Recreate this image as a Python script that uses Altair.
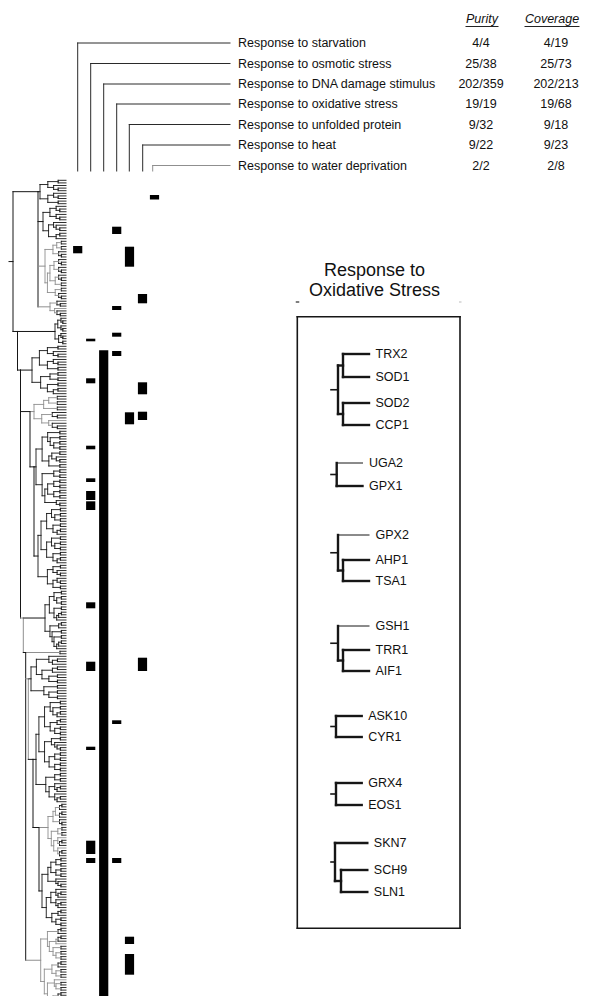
import math
import altair as alt
import pandas as pd

# ------------------------------------------------------------------ data
categories = ["Response to starvation", "Response to osmotic stress",
              "Response to DNA damage stimulus", "Response to oxidative stress",
              "Response to unfolded protein", "Response to heat",
              "Response to water deprivation"]
purity = ["4/4", "25/38", "202/359", "19/19", "9/32", "9/22", "2/2"]
coverage = ["4/19", "25/73", "202/213", "19/68", "9/18", "9/23", "2/8"]

# presence bars: category column, start / end along the ordered gene axis
bar_col = [6, 3, 0, 4, 5, 3, 3, 1, 3, 2, 1, 5, 4, 5, 1, 1, 1, 1, 1, 1, 5, 3, 1, 1, 1, 3, 4, 4]
bar_start = [195, 226.7, 246, 246.7, 294, 306, 332.7, 338.7, 351, 350.3, 378.3, 382.3, 412.3,
             411.7, 445.7, 478.3, 491, 501.3, 602.3, 661.7, 657.7, 720.3, 746.7, 840.7, 858,
             858, 936.7, 954]
bar_end = [199.5, 234, 253.3, 266.7, 303.3, 310, 336.7, 341.3, 356, 1010, 383.3, 394.3, 424.3,
           420, 449.3, 482, 500, 510, 608.3, 671, 671, 724, 750, 854, 863, 863, 944, 974.7]

# inset: response to oxidative stress clusters
inset_genes = [["TRX2", "SOD1", "SOD2", "CCP1"], ["UGA2", "GPX1"], ["GPX2", "AHP1", "TSA1"],
               ["GSH1", "TRR1", "AIF1"], ["ASK10", "CYR1"], ["GRX4", "EOS1"],
               ["SKN7", "SCH9", "SLN1"]]
inset_gene_pos = [[354, 377, 403, 425], [463, 486], [535, 560, 581], [626, 650, 671],
                  [716, 737], [783, 805], [843, 870, 892]]
inset_topology = [((0, 1), (2, 3)), (0, 1), (0, (1, 2)), (0, (1, 2)), (0, 1), (0, 1), (0, (1, 2))]
inset_root_h = [338, 336.7, 338, 338, 336, 336, 335]
inset_inner_h = [343, 0, 343, 343, 0, 0, 341]
inset_leaf_h = [369, 362.5, 369, 369, 361.7, 361.7, 367.3]
thin_leaves = ["UGA2", "GPX2", "GSH1"]

# main dendrogram: sub-clusters (span on gene axis, merge height, parent, tone)
block_start = [179, 205, 240, 300, 317, 345, 395, 430, 507, 590, 650, 655, 700, 803, 857, 927]
block_end = [205, 240, 300, 317, 345, 395, 430, 507, 590, 650, 655, 700, 803, 857, 927, 1012]
block_h = [40, 43, 45, 50, 55, 32, 34, 36, 38, 45, 60, 31, 36, 48, 42, 40.7]
block_parent = ["S1", "S1", "S1", "S1", "S2", "S3", "S3a", "S3b", "S3b", "S4", "S5", "S6",
                "S7", "S8", "S8", "S5"]
block_tone = ["k", "k", "g", "g", "k", "k", "g", "k", "k", "k", "g", "k", "k", "g", "k", "g"]
spine_name = ["S0", "S1", "S2", "S3", "S3a", "S3b", "S4", "S5", "S6", "S7", "S8"]
spine_h = [13, 38, 17.5, 20.5, 30, 34, 23.3, 25.7, 28.3, 33, 39]
spine_parent = ["", "S0", "S0", "S2", "S3", "S3a", "S3", "S4", "S5", "S6", "S7"]
spine_tone = ["k", "k", "k", "k", "k", "k", "g", "k", "g", "k", "k"]

# ------------------------------------------------------------------ layout
BLACK, GRAY = "#161616", "#8f8f8f"
TONE = {"k": BLACK, "g": GRAY}
LEAF_X = 66
COL_X = [77.7, 90.7, 103.7, 116.7, 129.5, 142.5, 154.5]
BRACKET_X = [77.7, 90.7, 103.7, 116.7, 129.3, 142.7, 152.7]
ROW_Y = [43, 63.5, 84, 104, 124.5, 145, 165.5]
PUR_X, COV_X, COV_HEAD_X = 481, 556, 552

segs = []


def seg(x1, y1, x2, y2, color=BLACK, w=1.0):
    segs.append(dict(x=x1, y=y1, x2=x2, y2=y2, color=color, sw=w))


# header brackets
for i in range(7):
    c = GRAY if i == 6 else "#2a2a2a"
    seg(BRACKET_X[i], ROW_Y[i], BRACKET_X[i], 171, c, 1)
    seg(BRACKET_X[i], ROW_Y[i], 230, ROW_Y[i], c, 1)

# dendrogram blocks
SPLITS = [0.5, 0.3, 0.62, 0.4, 0.25, 0.55, 0.35, 0.45, 0.7, 0.5]
counter = [0]


def build_block(y0, y1, root_x, tone):
    n = max(2, int(round((y1 - y0) / 2.6)))
    step = (y1 - y0) / n
    leaves = [y0 + (i + 0.5) * step for i in range(n)]

    def rec(lo, hi):
        size = hi - lo
        if size == 1:
            return LEAF_X, leaves[lo]
        f = SPLITS[counter[0] % len(SPLITS)]
        counter[0] += 1
        k = lo + min(size - 1, max(1, int(round(size * f))))
        c1 = rec(lo, k)
        c2 = rec(k, hi)
        x = LEAF_X - (LEAF_X - root_x) * (math.log(size) / math.log(n))
        col = TONE[tone] if size > 3 else BLACK
        seg(x, c1[1], x, c2[1], col, 0.9)
        seg(x, c1[1], c1[0], c1[1], col, 0.9)
        seg(x, c2[1], c2[0], c2[1], col, 0.9)
        return x, (c1[1] + c2[1]) / 2

    return rec(0, n)


children = {s: [] for s in spine_name}
for i in range(len(block_start)):
    bx, by = build_block(block_start[i], block_end[i], block_h[i], block_tone[i])
    children[block_parent[i]].append((bx, by, block_tone[i]))

spine_top = {}
for j in reversed(range(len(spine_name))):
    name = spine_name[j]
    ys = [c[1] for c in children[name]]
    x = spine_h[j]
    col = TONE[spine_tone[j]]
    seg(x, min(ys), x, max(ys), col, 1)
    for cx, cy, ct in children[name]:
        seg(x, cy, cx, cy, TONE[ct], 1)
    top = min(ys)
    spine_top[name] = (top, (min(ys) + max(ys)) / 2)
    if spine_parent[j]:
        children[spine_parent[j]].append((x, top, spine_tone[j]))
seg(9, spine_top["S0"][1], 13, spine_top["S0"][1], BLACK, 1)

# inset box
seg(297.3, 316.7, 460, 316.7, BLACK, 1.6)
seg(297.3, 928.3, 460, 928.3, BLACK, 1.6)
seg(297.3, 316.7, 297.3, 928.3, BLACK, 1.6)
seg(460, 316.7, 460, 928.3, BLACK, 1.6)
seg(296.5, 302, 298.5, 302, "#555555", 1.5)
seg(459.5, 302, 461, 302, "#bbbbbb", 1)

# inset dendrograms
text_rows_inset = []
for g in range(7):
    genes = inset_genes[g]
    pos = inset_gene_pos[g]
    lend = inset_leaf_h[g]

    def draw(t, x):
        if isinstance(t, int):
            w = 1.0 if genes[t] in thin_leaves else 2.4
            seg(x, pos[t], lend, pos[t], BLACK, w)
            return pos[t]
        a, b = t
        inner = inset_inner_h[g]
        ya = draw(a, inner)
        yb = draw(b, inner)
        seg(inner, ya, inner, yb, BLACK, 2.4)
        ym = (ya + yb) / 2
        seg(x, ym, inner, ym, BLACK, 2.4)
        return ym

    a, b = inset_topology[g]
    rx = inset_root_h[g]
    ya = draw(a, rx)
    yb = draw(b, rx)
    seg(rx, ya, rx, yb, BLACK, 2.4)
    seg(331, (ya + yb) / 2, rx, (ya + yb) / 2, BLACK, 1.6)
    for t, yy in zip(genes, pos):
        text_rows_inset.append(dict(x=lend + 6.5, y=yy, text=t))

# underline for column headers
seg(466, 26.5, 498, 26.5, "#222222", 1)
seg(COV_HEAD_X - 27, 26.5, COV_HEAD_X + 27, 26.5, "#222222", 1)

seg_df = pd.DataFrame(segs)

bars_df = pd.DataFrame(dict(
    x=[COL_X[c] - 4.6 for c in bar_col], x2=[COL_X[c] + 4.6 for c in bar_col],
    y=bar_start, y2=bar_end))

label_df = pd.DataFrame(dict(x=[238] * 7, y=ROW_Y, text=categories))
val_df = pd.DataFrame(dict(x=[PUR_X] * 7 + [COV_X] * 7, y=ROW_Y * 2, text=purity + coverage))
head_df = pd.DataFrame(dict(x=[482, COV_HEAD_X], y=[19, 19], text=["Purity", "Coverage"]))
title_df = pd.DataFrame(dict(x=[374.5, 374.5], y=[270.5, 291], text=["Response to", "Oxidative Stress"]))
gene_df = pd.DataFrame(text_rows_inset)

xs = alt.Scale(domain=[8, 581], nice=False, zero=False)
ys = alt.Scale(domain=[8, 996], nice=False, zero=False, reverse=True)
X = alt.X("x:Q", scale=xs, axis=None)
Y = alt.Y("y:Q", scale=ys, axis=None)
FONT = "Liberation Sans"

rules = alt.Chart(seg_df).mark_rule(strokeCap="square").encode(
    x=X, y=Y, x2="x2:Q", y2="y2:Q",
    color=alt.Color("color:N", scale=None),
    strokeWidth=alt.StrokeWidth("sw:Q", scale=None))

bars = alt.Chart(bars_df).mark_rect(color="#000000").encode(x=X, y=Y, x2="x2:Q", y2="y2:Q")

labels = alt.Chart(label_df).mark_text(align="left", baseline="middle", font=FONT,
                                       fontSize=12.5, color="#111111").encode(x=X, y=Y, text="text:N")
vals = alt.Chart(val_df).mark_text(align="center", baseline="middle", font=FONT,
                                   fontSize=12.5, color="#111111").encode(x=X, y=Y, text="text:N")
heads = alt.Chart(head_df).mark_text(align="center", baseline="middle", font=FONT, fontStyle="italic",
                                     fontSize=12.5, color="#111111").encode(x=X, y=Y, text="text:N")
titles = alt.Chart(title_df).mark_text(align="center", baseline="middle", font=FONT,
                                       fontSize=18, color="#111111").encode(x=X, y=Y, text="text:N")
genes_t = alt.Chart(gene_df).mark_text(align="left", baseline="middle", font=FONT,
                                       fontSize=12.5, color="#111111").encode(x=X, y=Y, text="text:N")

chart = alt.layer(rules, bars, labels, vals, heads, titles, genes_t).properties(
    width=573, height=988, padding=0,
    autosize=alt.AutoSizeParams(type="none")
).configure_view(strokeWidth=0)

chart.save("out.html", embed_options={"renderer": "svg", "actions": False})
